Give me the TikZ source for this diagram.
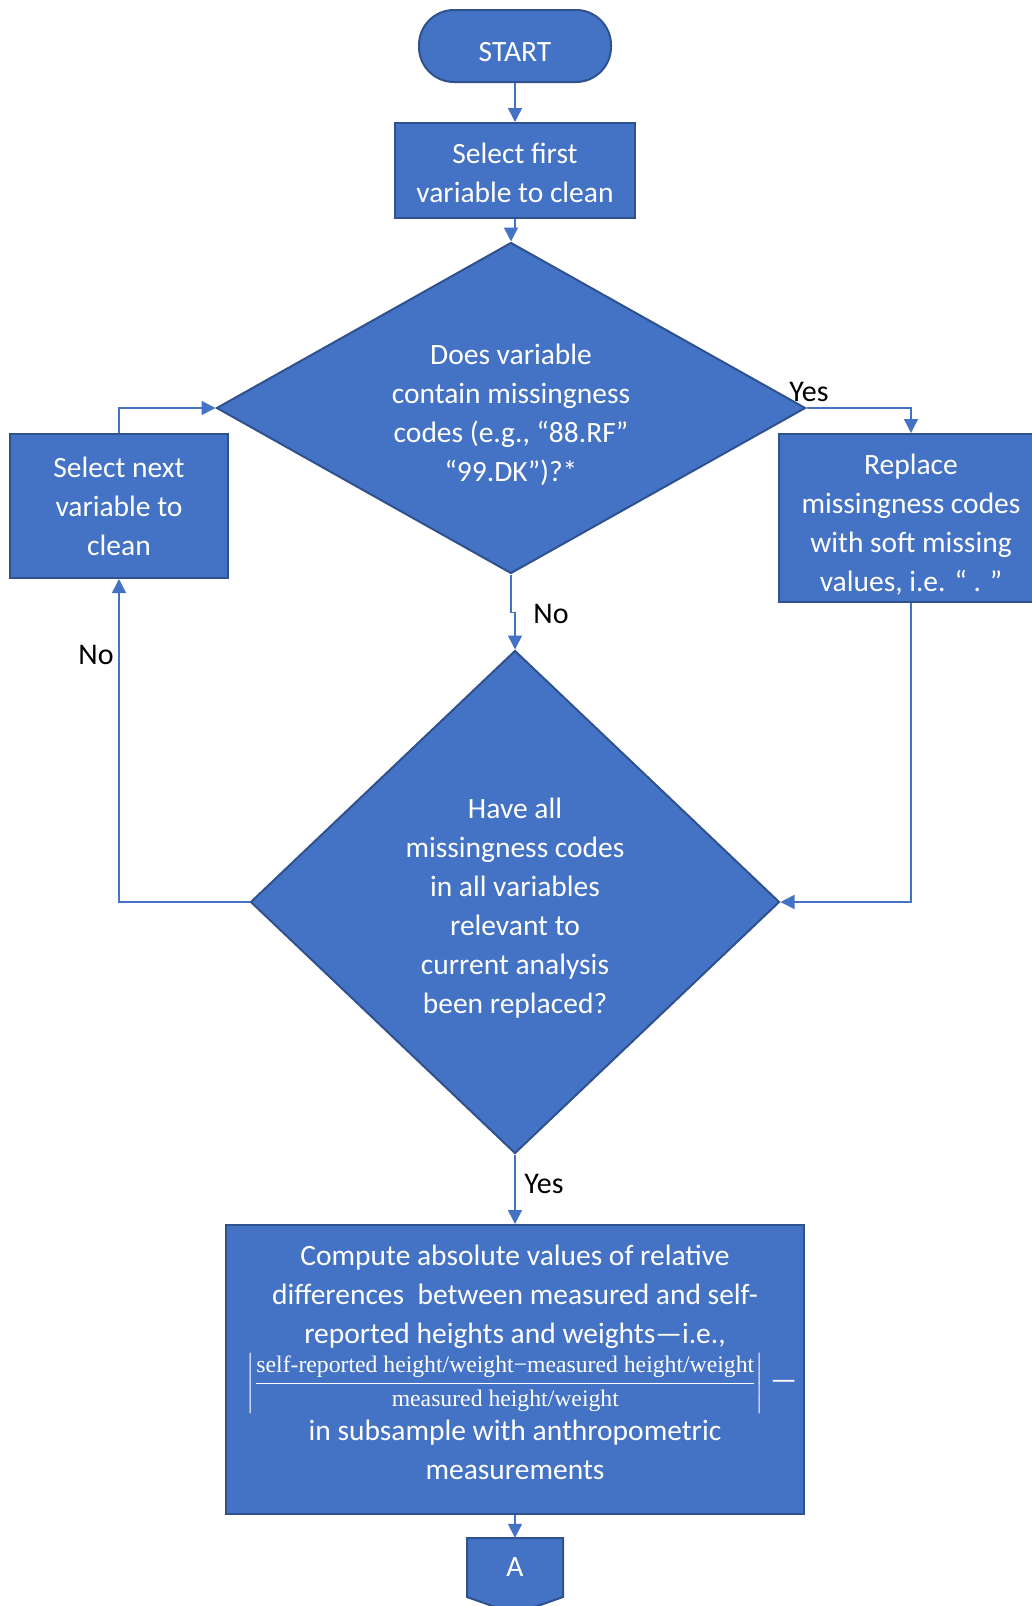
\documentclass[tikz,border=0pt]{standalone}
\usepackage{amsmath}
\usepackage{fontspec}
\setmainfont{Carlito}
\newfontfamily\fracfont{Liberation Serif}
\usetikzlibrary{arrows.meta, shapes.geometric}

\definecolor{boxblue}{HTML}{4472C4}
\definecolor{edgeblue}{HTML}{2F528F}

% invisible strut to push a node's text down a little
\newcommand{\padtop}[1]{\rule{0pt}{#1}}

\begin{document}
\begin{tikzpicture}[x=1pt, y=-1pt,
    every node/.style={font=\fontsize{29.5}{39}\selectfont},
    block/.style={rectangle, draw=edgeblue, fill=boxblue, line width=2pt,
                  text=white, align=center, inner sep=0pt},
    decision/.style={diamond, draw=edgeblue, fill=boxblue, line width=2pt,
                     text=white, align=center, inner sep=0pt},
    flow/.style={draw=boxblue, line width=1.5pt, -{Triangle[length=14pt, width=14pt]}},
    lbl/.style={text=black, font=\fontsize{30}{32}\selectfont}]

  \useasboundingbox (0,0) rectangle (1032,1606);

  % === Top: start and first variable ===
  \node[block, rounded corners=35pt, minimum width=192, minimum height=72] (start) at (515,46) {\padtop{31pt}START};
  \node[block, minimum width=240, minimum height=95] (first) at (515,170.5) {\padtop{26pt}Select first\\variable to clean};

  % === Decisions ===
  \node[decision, aspect=1.78, minimum width=589, minimum height=331] (codes) at (511,408)
    {\padtop{35pt}Does variable\\contain missingness\\codes (e.g., “88.RF”\\“99.DK”)?*};
  \node[decision, minimum width=529, minimum height=503] (alldone) at (515,902)
    {\padtop{32pt}Have all\\missingness codes\\in all variables\\relevant to\\current analysis\\been replaced?};

  % === Side boxes ===
  \node[block, minimum width=218, minimum height=144] (next) at (119,506) {Select next\\variable to\\clean};
  \node[block, minimum width=264, minimum height=168] (replace) at (911,518)
    {\padtop{34pt}Replace\\missingness codes\\with soft missing\\values, i.e. “ . ”};

  % === Bottom box ===
  \node[block, minimum width=578, minimum height=289] (compute) at (515,1369.5)
    {Compute absolute values of relative\\
     differences\ \ between measured and self-\\
     reported heights and weights—i.e.,\\[4pt]
     \hspace*{14pt}{\fracfont\fontsize{23.7}{27}\selectfont$\left|\dfrac{\text{self-reported height/weight−measured height/weight}}{\text{measured height/weight}}\right|$}\ —\\[6pt]
     in subsample with anthropometric\\
     measurements\\[-25pt]\mbox{}};

  % off-page connector
  \path[fill=boxblue, draw=edgeblue, line width=2pt]
    (467,1538) -- (563,1538) -- (563,1597) -- (515,1614) -- (467,1597) -- cycle;
  \node[text=white, minimum width=96, minimum height=59, inner sep=0pt] (offA) at (515,1567.5) {A};

  % === Connectors ===
  \draw[flow] (start) -- (first);
  \draw[flow] (first.south) -- ++(0,10) -| (codes.north);
  \draw[flow] (codes.east) -| (replace.north);
  \draw[flow] (codes.south) -- ++(0,38) -| (alldone.north);
  \draw[flow] (replace.south) |- (alldone.east);
  \draw[flow] (alldone.west) -| (next.south);
  \draw[flow] (next.north) |- (codes.west);
  \draw[flow] (alldone.south) -- (compute.north);
  \draw[flow] (compute.south) -- (offA.north);

  % labels
  \node[lbl] (yes1) at (809,392) {Yes};
  \node[lbl] (no1) at (551,614) {No};
  \node[lbl] (no2) at (96,655) {No};
  \node[lbl] (yes2) at (544,1184) {Yes};

\end{tikzpicture}
\end{document}
